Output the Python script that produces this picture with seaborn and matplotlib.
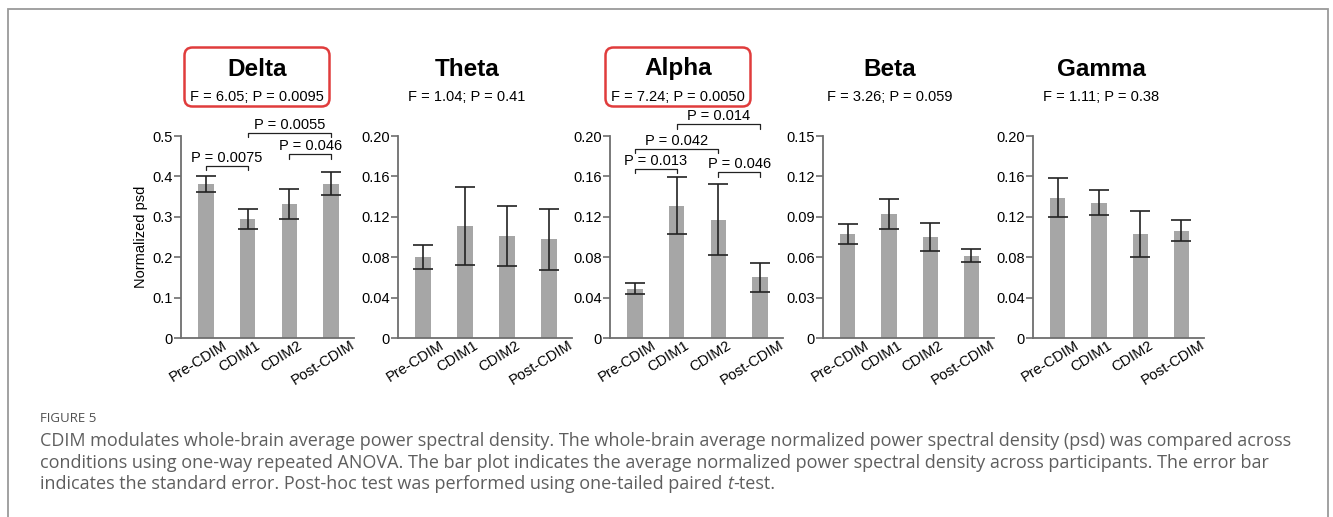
import matplotlib
matplotlib.use("Agg")
import matplotlib.pyplot as plt
from matplotlib.patches import FancyBboxPatch, Rectangle
import numpy as np
import pandas as pd
import seaborn as sns

# ---- data -------------------------------------------------------------
conditions = ["Pre-CDIM", "CDIM1", "CDIM2", "Post-CDIM"]
bands = ["Delta", "Theta", "Alpha", "Beta", "Gamma"]
anova_text = ["F = 6.05; P = 0.0095", "F = 1.04; P = 0.41", "F = 7.24; P = 0.0050",
              "F = 3.26; P = 0.059", "F = 1.11; P = 0.38"]
significant_bands = ["Delta", "Alpha"]

delta_mean = [0.381, 0.295, 0.332, 0.382]
delta_se = [0.019, 0.025, 0.038, 0.028]
theta_mean = [0.0805, 0.111, 0.101, 0.0977]
theta_se = [0.012, 0.039, 0.030, 0.030]
alpha_mean = [0.0489, 0.131, 0.117, 0.0602]
alpha_se = [0.0056, 0.0285, 0.035, 0.0145]
beta_mean = [0.0771, 0.092, 0.0749, 0.061]
beta_se = [0.0074, 0.011, 0.0102, 0.0049]
gamma_mean = [0.1388, 0.1339, 0.1028, 0.1064]
gamma_se = [0.0192, 0.0126, 0.0225, 0.0100]

delta_ticks = [0, 0.1, 0.2, 0.3, 0.4, 0.5]
delta_ticklabels = ["0", "0.1", "0.2", "0.3", "0.4", "0.5"]
theta_ticks = [0, 0.04, 0.08, 0.12, 0.16, 0.20]
theta_ticklabels = ["0", "0.04", "0.08", "0.12", "0.16", "0.20"]
alpha_ticks = theta_ticks
alpha_ticklabels = theta_ticklabels
beta_ticks = [0, 0.03, 0.06, 0.09, 0.12, 0.15]
beta_ticklabels = ["0", "0.03", "0.06", "0.09", "0.12", "0.15"]
gamma_ticks = theta_ticks
gamma_ticklabels = theta_ticklabels

# post-hoc comparisons: (first condition index, second condition index, bracket height, label)
delta_pairs = [(0, 1, 0.426, "P = 0.0075"), (2, 3, 0.455, "P = 0.046"), (1, 3, 0.508, "P = 0.0055")]
alpha_pairs = [(0, 1, 0.1673, "P = 0.013"), (2, 3, 0.1643, "P = 0.046"),
               (0, 2, 0.1874, "P = 0.042"), (1, 3, 0.2116, "P = 0.014")]

band_means = [delta_mean, theta_mean, alpha_mean, beta_mean, gamma_mean]
band_se = [delta_se, theta_se, alpha_se, beta_se, gamma_se]
band_ticks = [delta_ticks, theta_ticks, alpha_ticks, beta_ticks, gamma_ticks]
band_ticklabels = [delta_ticklabels, theta_ticklabels, alpha_ticklabels, beta_ticklabels, gamma_ticklabels]
band_pairs = [delta_pairs, [], alpha_pairs, [], []]

caption_label = "FIGURE 5"
caption_lines = [
    "CDIM modulates whole-brain average power spectral density. The whole-brain average normalized power spectral density (psd) was compared across",
    "conditions using one-way repeated ANOVA. The bar plot indicates the average normalized power spectral density across participants. The error bar",
]
caption_last = ["indicates the standard error. Post-hoc test was performed using one-tailed paired ", "t", "-test."]

# ---- style ------------------------------------------------------------
sns.set_theme(style="ticks")
plt.rcParams["font.family"] = ["Liberation Sans", "DejaVu Sans"]

W, H = 1333, 517
fig = plt.figure(figsize=(W / 100, H / 100), dpi=100)

def px_axes(x0, x1, ytop, ybot):
    return fig.add_axes([x0 / W, 1 - ybot / H, (x1 - x0) / W, (ybot - ytop) / H])

axes_px = [(181, 354), (398, 572), (610, 783), (823, 994), (1033, 1204)]
title_x = [257, 467, 678, 890, 1101]
bar_color = "#a6a6a6"
spine_color = "#6e6e6e"
ink = "#222222"
label_offset = 0.19  # rotated category labels sit slightly left of their bar

for i, band in enumerate(bands):
    x0, x1 = axes_px[i]
    ax = px_axes(x0, x1, 136, 338)
    df = pd.DataFrame({"condition": conditions, "psd": band_means[i]})
    sns.barplot(data=df, x="condition", y="psd", ax=ax, color=bar_color,
                saturation=1, width=0.37, errorbar=None, linewidth=0)
    ax.errorbar(np.arange(len(conditions)), band_means[i], yerr=band_se[i], fmt="none",
                ecolor=ink, elinewidth=1.2, capsize=7, capthick=1.2, zorder=3)
    ymax = band_ticks[i][-1]
    ax.set_ylim(0, ymax)
    ax.set_xlim(-0.6, 3.55)
    ax.set_yticks(band_ticks[i])
    ax.set_yticklabels(band_ticklabels[i])
    ax.set_xticks(np.arange(len(conditions)) - label_offset)
    ax.set_xticklabels(conditions, rotation=32, ha="center", va="top")
    ax.tick_params(axis="y", length=5, width=1.2, color=spine_color, pad=1,
                   labelsize=10.5, labelcolor="black")
    ax.tick_params(axis="x", length=0, pad=0, labelsize=10.5, labelcolor="black")
    for s in ["top", "right"]:
        ax.spines[s].set_visible(False)
    for s in ["left", "bottom"]:
        ax.spines[s].set_color(spine_color)
        ax.spines[s].set_linewidth(1.3)
    ax.set_xlabel("")
    if i == 0:
        ax.set_ylabel("Normalized psd", fontsize=10.5, color="black")
        ax.yaxis.set_label_coords(-0.19, 0.5)
    else:
        ax.set_ylabel("")

    # post-hoc brackets
    drop = 0.022 * ymax
    for a, b, yb, label in band_pairs[i]:
        ax.plot([a, a, b, b], [yb - drop, yb, yb, yb - drop], color=ink, lw=0.9,
                clip_on=False, zorder=4)
        ax.text((a + b) / 2, yb + 0.006 * ymax, label, ha="center", va="bottom",
                fontsize=10.5, color="black", clip_on=False)

    # panel titles
    tx = title_x[i] / W
    fig.text(tx, 1 - 69 / H, band, ha="center", va="center", fontsize=17.5,
             fontweight="bold", color="black")
    fig.text(tx, 1 - 97 / H, anova_text[i], ha="center", va="center", fontsize=10.5,
             color="black")
    if band in significant_bands:
        bw, bh = 145 / W, 59 / H
        box = FancyBboxPatch((tx - bw / 2, 1 - 106.5 / H), bw, bh,
                             boxstyle="round,pad=0,rounding_size=0.006",
                             transform=fig.transFigure, fill=False,
                             edgecolor="#e03c3c", linewidth=1.8, mutation_aspect=W / H)
        fig.patches.append(box)

# outer frame
frame = Rectangle((8 / W, -0.05), (1328 - 8) / W, 1.05 - 9 / H, transform=fig.transFigure,
                  fill=False, edgecolor="#9a9a9a", linewidth=1.3)
fig.patches.append(frame)

# caption
cap_color = "#5e5e5e"
cap_font = ["Open Sans", "DejaVu Sans"]
fig.text(40 / W, 1 - 419 / H, caption_label, ha="left", va="center", fontsize=9.5,
         color="#505050", family=cap_font)
for k, line in enumerate(caption_lines):
    fig.text(40 / W, 1 - (441 + 21.5 * k) / H, line, ha="left", va="center",
             fontsize=13, color=cap_color, family=cap_font)
renderer = fig.canvas.get_renderer()
xpos = 40 / W
ypos = 1 - 484 / H
for j, piece in enumerate(caption_last):
    t = fig.text(xpos, ypos, piece, ha="left", va="center", fontsize=13, color=cap_color,
                 family=cap_font, style="italic" if j == 1 else "normal")
    bb = t.get_window_extent(renderer=renderer)
    xpos = bb.x1 / W + (1.0 / W if j == 1 else 0)

fig.savefig("out.png", dpi=100)
